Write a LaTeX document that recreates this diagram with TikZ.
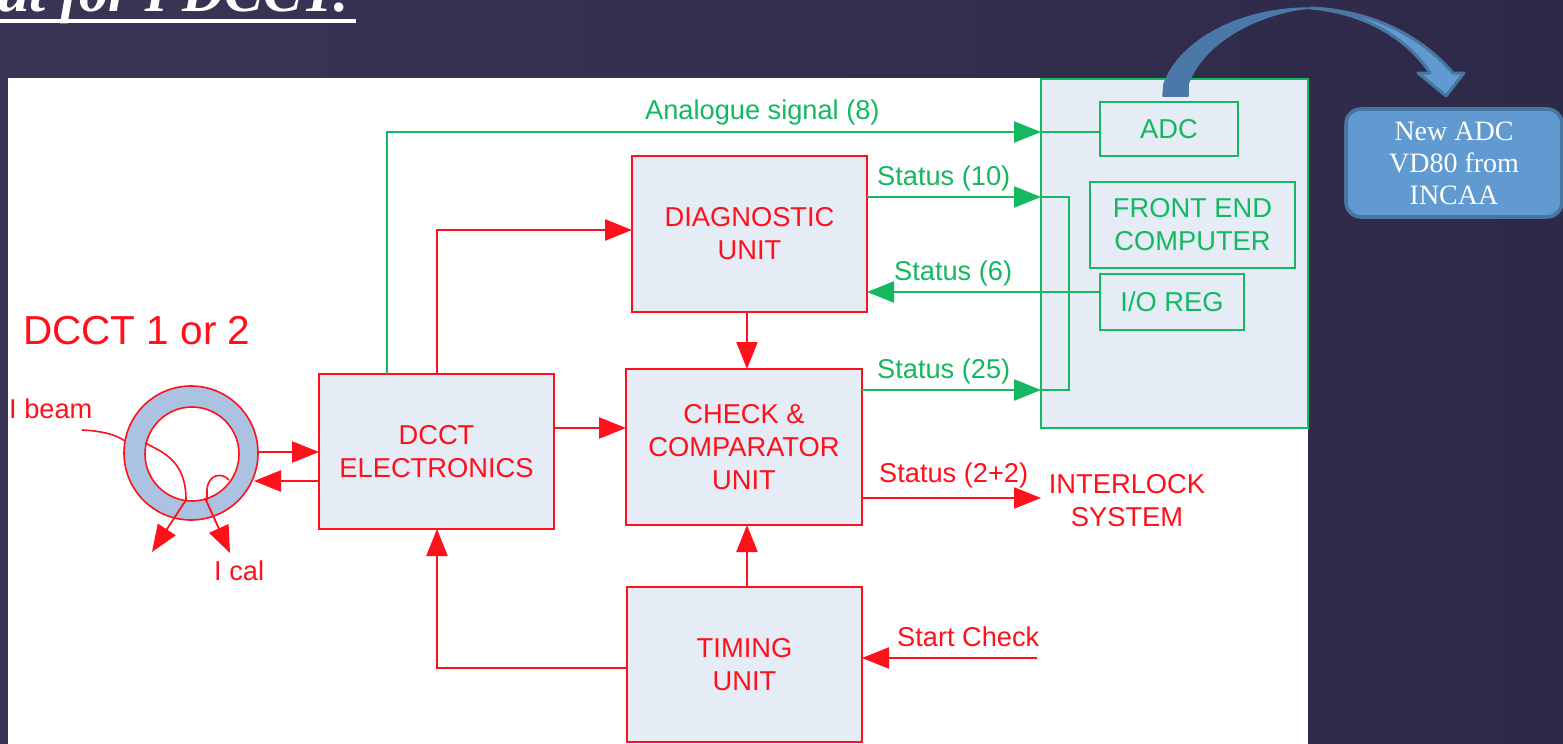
\documentclass[tikz,border=0pt]{standalone}
\usepackage{fontspec}
\setmainfont{Liberation Sans}
\newfontfamily\serifface{Liberation Serif}
\usetikzlibrary{arrows.meta,calc}
\definecolor{bgl}{RGB}{58,53,84}
\definecolor{bgr}{RGB}{46,41,72}
\definecolor{panelblue}{RGB}{230,236,246}
\definecolor{ringblue}{RGB}{172,194,226}
\definecolor{gr}{RGB}{20,184,96}
\definecolor{rd}{RGB}{255,16,26}
\definecolor{calloutfill}{RGB}{96,154,209}
\definecolor{calloutedge}{RGB}{74,117,160}
\definecolor{arrowback}{RGB}{74,120,168}
\tikzset{
  x=1pt,y=-1pt,
  rbox/.style={draw=rd,fill=panelblue,line width=2.4pt,text=rd,align=center,outer sep=0pt,inner sep=0pt,font=\fontsize{27.3}{33}\selectfont},
  gbox/.style={draw=gr,fill=panelblue,line width=2.4pt,text=gr,align=center,outer sep=0pt,inner sep=0pt,font=\fontsize{27.3}{33}\selectfont},
  rlabel/.style={text=rd,inner sep=0pt,font=\fontsize{27.2}{33}\selectfont,align=center},
  glabel/.style={text=gr,inner sep=0pt,font=\fontsize{27.2}{33}\selectfont},
  rline/.style={draw=rd,line width=2.4pt},
  gline/.style={draw=gr,line width=2.4pt},
  rarrow/.style={rline,-{Triangle[length=27pt,width=21pt]}},
  garrow/.style={gline,-{Triangle[length=27pt,width=21pt]}},
  thinred/.style={draw=rd,line width=1.6pt},
  callout/.style={draw=calloutedge,fill=calloutfill,line width=3.6pt,rounded corners=15pt,text=white,align=center,inner sep=0pt,outer sep=0pt,font=\serifface\fontsize{28}{32}\selectfont},
}
\begin{document}
\begin{tikzpicture}
\useasboundingbox (0,0) rectangle (1563,744);
\clip (0,0) rectangle (1563,744);
\shade[left color=bgl,right color=bgr] (0,0) rectangle (1563,744);
% title
\node[anchor=base west,inner sep=0pt,text=white,font=\serifface\bfseries\itshape\fontsize{58}{58}\selectfont] (title) at (-3,12) {ut for I DCCT:};
\coordinate (ulL) at (0,21);
\coordinate (ulR) at (356,21);
\draw[white,line width=3.2pt] (ulL) -- (ulR);
% white sheet
\node[fill=white,minimum width=1300pt,minimum height=666pt,inner sep=0pt,outer sep=0pt] (sheet) at (658,411) {};
% right panel
\node[gbox,minimum width=267pt,minimum height=349pt] (panel) at (1174.5,253.5) {};
% boxes
\node[gbox,minimum width=138pt,minimum height=54pt] (adc) at (1169,129) {ADC};
\node[gbox,minimum width=205pt,minimum height=86pt] (fec) at (1192.5,225) {FRONT END\\COMPUTER};
\node[gbox,minimum width=144pt,minimum height=56pt] (io) at (1172,302) {I/O REG};
\node[rbox,minimum width=235pt,minimum height=156pt] (diag) at (749.5,234) {DIAGNOSTIC\\UNIT};
\node[rbox,minimum width=236pt,minimum height=156pt] (check) at (744,447) {CHECK \&\\COMPARATOR\\UNIT};
\node[rbox,minimum width=235pt,minimum height=155pt] (timing) at (744.5,664.5) {TIMING\\UNIT};
\node[rbox,minimum width=235pt,minimum height=155pt] (elec) at (436.5,451.5) {DCCT\\ELECTRONICS};
% torus
\node[circle,draw=rd,fill=ringblue,line width=1.6pt,minimum size=134pt,inner sep=0pt,outer sep=0pt] (ring) at (191,453) {};
\node[circle,draw=rd,fill=white,line width=1.6pt,minimum size=94pt,inner sep=0pt,outer sep=0pt] (hole) at (192,454) {};
% green connectors
\coordinate (anX) at (387,132);
\draw[gline] (anX -| panel.west) -- (anX -| adc.west);
\draw[garrow] (elec.north -| anX) -- (anX) -- (anX -| panel.west);
\coordinate (busA) at (1069,197);
\coordinate (busB) at (1069,390);
\draw[garrow] (diag.east |- busA) -- (busA -| panel.west);
\draw[garrow] (check.east |- busB) -- (busB -| panel.west);
\draw[gline] (busA -| panel.west) -- (busA) -- (busB) -- (busB -| panel.west);
\coordinate (st6) at (1000,292);
\draw[garrow] (io.west |- st6) -- (diag.east |- st6);
% red connectors
\coordinate (diagIn) at (437,230);
\draw[rarrow] (elec.north -| diagIn) -- (diagIn) -- (diagIn -| diag.west);
\coordinate (midX) at (747,300);
\draw[rarrow] (diag.south -| midX) -- (check.north -| midX);
\draw[rarrow] (timing.north -| midX) -- (check.south -| midX);
\coordinate (ecY) at (500,428);
\draw[rarrow] (elec.east |- ecY) -- (check.west |- ecY);
\coordinate (tmY) at (437,668);
\draw[rarrow] (timing.west |- tmY) -- (tmY) -- (elec.south -| tmY);
\coordinate (startEnd) at (1037,658);
\draw[rarrow] (startEnd) -- (timing.east |- startEnd);
\coordinate (ilEnd) at (1041,498);
\draw[rarrow] (check.east |- ilEnd) -- (ilEnd);
\coordinate (ringOut) at (258,452);
\draw[rarrow] (ringOut) -- (elec.west |- ringOut);
\coordinate (ringIn) at (254,481);
\draw[rarrow] (elec.west |- ringIn) -- (ringIn);
% beam and calibration windings
\coordinate (beamS) at (82,430);
\coordinate (beamE) at (152,552);
\coordinate (calS) at (229,480);
\coordinate (calE) at (230,553);
\draw[thinred] (beamS) .. controls (105,431) and (118,436) .. (125,441)
  (145,443) .. controls (165,453) and (186,462) .. (186,500);
\draw[rline,line width=1.8pt,-{Triangle[length=27pt,width=21pt]}] (186,500) -- (beamE);
\draw[thinred] (calS) .. controls (222,472) and (208,474) .. (207,490) -- (207,500);
\draw[rline,line width=1.8pt,-{Triangle[length=27pt,width=21pt]}] (205,498) -- (calE);
% labels
\node[text=rd,anchor=base west,inner sep=0pt,font=\fontsize{40.5}{40}\selectfont] (dcctl) at (23,344) {DCCT 1 or 2};
\node[rlabel,anchor=base west] (ibeam) at (9,418) {I beam};
\node[rlabel,anchor=base west] (ical) at (214,580) {I cal};
\node[glabel,anchor=base west] (analog) at (645,119) {Analogue signal (8)};
\node[glabel,anchor=base west] (s10) at (877,185) {Status (10)};
\node[glabel,anchor=base west] (s6) at (894,280) {Status (6)};
\node[glabel,anchor=base west] (s25) at (877,378) {Status (25)};
\node[rlabel,anchor=base west] (s22) at (879,482) {Status (2+2)};
\node[rbox,draw=none,fill=none] (ilock) at (1127,500.5) {INTERLOCK\\SYSTEM};
\node[rlabel,anchor=base west] (start) at (897,646) {Start Check};
% callout and curved arrow
\coordinate (tailL) at (1163,96);
\coordinate (tailR) at (1188,96);
\coordinate (arcTop) at (1310,8);
\coordinate (tip) at (1446,96);
\coordinate (headL) at (1418,73);
\coordinate (headR) at (1464,73);
\coordinate (neckL) at (1430,73);
\coordinate (neckR) at (1453,73);
\fill[arrowback,draw=arrowback,line width=1.5pt,line join=round]
  (tailL) -- (1164,84) .. controls (1180,40) and (1240,8) .. (arcTop)
  .. controls (1265,12) and (1205,38) .. (1188,84) -- (tailR) -- cycle;
\fill[calloutfill,draw=calloutedge,line width=3pt,line join=round]
  (arcTop) .. controls (1370,10) and (1420,35) .. (neckR) -- (headR) -- (tip) -- (headL) -- (neckL)
  .. controls (1405,35) and (1360,12) .. (arcTop) -- cycle;
\node[callout,minimum width=216pt,minimum height=108pt] (newadc) at (1454,163) {New ADC\\VD80 from\\INCAA};
\end{tikzpicture}
\end{document}
